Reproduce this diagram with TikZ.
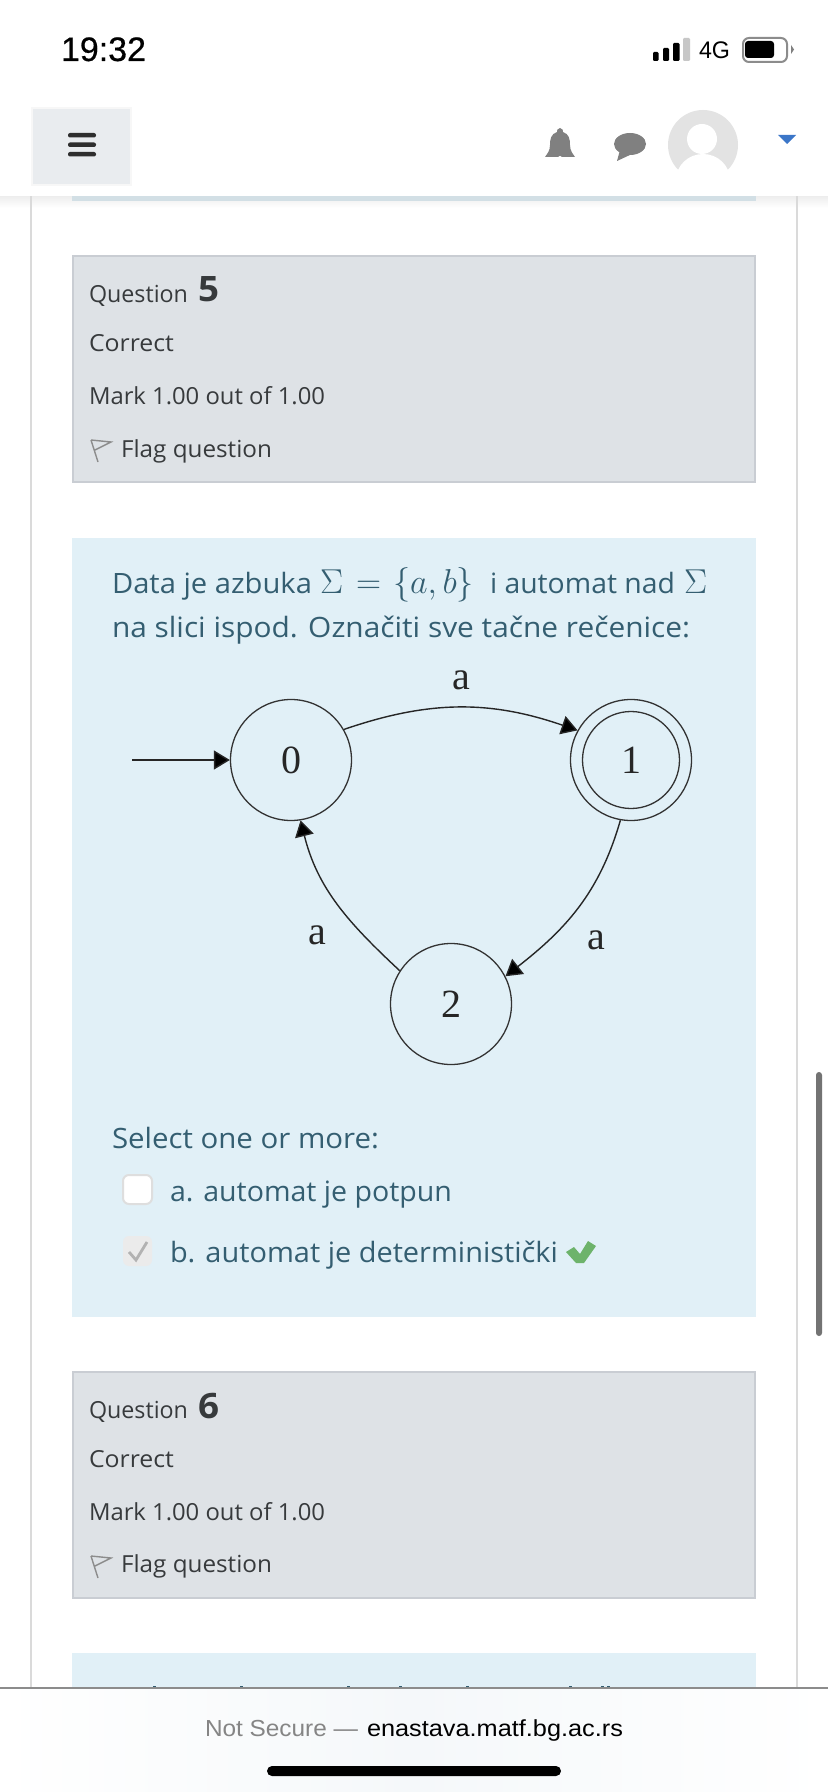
\documentclass[tikz,border=0pt]{standalone}
\usepackage{fontspec}
\usepackage{graphicx}
\usetikzlibrary{arrows.meta}
\setmainfont{Open Sans}
\newfontfamily\sysfont{Liberation Sans}
\newfontfamily\sysmed[FakeBold=0.5]{Liberation Sans}
\newfontfamily\dgfont{Liberation Serif}
\newcommand{\tw}[2]{\resizebox{\dimexpr #1pt/2\relax}{\height}{#2}}
\definecolor{qtext}{HTML}{373A3C}
\definecolor{atext}{HTML}{345E71}
\definecolor{qfill}{HTML}{DEE2E6}
\definecolor{qline}{HTML}{C9CDD3}
\definecolor{afill}{HTML}{E1F0F7}
\definecolor{frameline}{HTML}{DADADA}
\definecolor{icongray}{HTML}{808080}
\definecolor{okgreen}{HTML}{6DB36B}
\definecolor{caret}{HTML}{3B76C8}
\definecolor{menufill}{HTML}{E9ECEF}
\definecolor{barfill}{HTML}{F5F8FA}
\tikzset{
  basetext/.style={anchor=base west,inner sep=0pt,outer sep=0pt},
  qlabel/.style={basetext,text=qtext,font=\fontsize{11.75}{14}\selectfont},
  qnum/.style={basetext,text=qtext,font=\fontsize{17.5}{20}\selectfont\bfseries},
  atxt/.style={basetext,text=atext,font=\fontsize{14}{17}\selectfont},
  amath/.style={basetext,text=atext,font=\fontsize{17}{20}\selectfont},
  sys/.style={basetext,text=black,font=\sysfont\fontsize{12}{14}\selectfont},
  statenode/.style={circle,draw=black!80,line width=0.65pt,minimum size=60.5pt,inner sep=0pt,font=\dgfont\fontsize{20}{22}\selectfont,text=black!85},
  innercircle/.style={circle,draw=black!80,line width=0.65pt,minimum size=48.5pt,inner sep=0pt},
  edgelabel/.style={inner sep=0pt,font=\dgfont\fontsize{20}{22}\selectfont,text=black!85},
  edge/.style={draw=black!85,line width=0.7pt,-{Triangle[length=8pt,width=9.5pt,fill=black]}},
  qbox/.style={fill=qfill,draw=qline,line width=1pt},
  flagicon/.style={draw=gray!90,line width=0.7pt,line join=miter}
}
\begin{document}
\begin{tikzpicture}[x=0.5pt,y=-0.5pt]
\useasboundingbox (0,0) rectangle (828,1792);
\fill[white] (0,0) rectangle (828,1792);

% header shadow and strip
\shade[top color=black!7,bottom color=white] (0,196) rectangle (828,208);
\fill[frameline] (30,196) rectangle (32,1688);
\fill[frameline] (796,196) rectangle (798,1688);
\fill[fill=afill!85!gray] (72,196) rectangle (756,201);

% question 5
\draw[qbox] (73,256) rectangle (755,482);
\node[qlabel] (q5a) at (89,303) {\tw{99}{Question}};
\node[qnum] (q5b) at (198,302) {\tw{21}{5}};
\node[qlabel] (q5c) at (89,352) {\tw{85}{Correct}};
\node[qlabel] (q5d) at (89,404) {\tw{236}{Mark 1.00 out of 1.00}};
\node[qlabel] (q5e) at (121,457) {\tw{151}{Flag question}};
\draw[flagicon] (91,440) -- (98,462) (91,440) -- (111,442) -- (95,450);

% answer block
\fill[afill] (72,538) rectangle (756,1317);
\node[atxt] (t1) at (112,593) {\tw{200}{Data je azbuka}};
\node[amath] (t2a) at (320,593) {$\Sigma$};
\node[amath] (t2b) at (356,593) {\tw{25}{$=$}};
\node[amath] (t2c) at (393,593) {\tw{81}{$\{a,b\}$}};
\node[atxt] (t3) at (490,593) {\tw{185}{i automat nad}};
\node[amath] (t4) at (684,593) {$\Sigma$};
\node[atxt] (t5) at (112,637) {\tw{578}{na slici ispod. Označiti sve tačne rečenice:}};

% automaton
\coordinate (start) at (132,760);
\node[statenode] (n0) at (291,760) {0};
\node[statenode] (n1) at (631,760) {1};
\node[innercircle] (n1i) at (631,760) {};
\node[statenode] (n2) at (451,1004) {2};
\draw[edge] (start) -- (n0.west);
\draw[edge] (n0.30) to[out=19,in=161] (n1.151);
\draw[edge] (n1.260) to[out=254,in=38] (n2.27);
\draw[edge] (n2.147) to[out=137,in=284] (n0.279);
\node[edgelabel] (l1) at (461,680) {a};
\node[edgelabel] (l2) at (596,940) {a};
\node[edgelabel] (l3) at (317,935) {a};

% answers
\node[atxt] (s1) at (112,1148) {\tw{267}{Select one or more:}};
\draw[fill=white,draw=black!13,line width=1pt,rounded corners=3pt] (123,1175) rectangle (152,1204);
\node[atxt] (s2) at (170,1201) {\tw{282}{a. automat je potpun}};
\fill[black!8,rounded corners=3pt] (123,1236) rectangle (152,1266);
\draw[black!30,line width=1.4pt] (129,1252) -- (136,1260) -- (147,1242);
\node[atxt] (s3) at (170,1262) {\tw{388}{b. automat je deterministički}};
\fill[okgreen] (566,1252) -- (576,1263) -- (584,1263) -- (596,1246) -- (588,1241) -- (580,1254) -- (574,1247) -- cycle;

% question 6
\draw[qbox] (73,1372) rectangle (755,1598);
\node[qlabel] (q6a) at (89,1418) {\tw{99}{Question}};
\node[qnum] (q6b) at (198,1418) {\tw{21}{6}};
\node[qlabel] (q6c) at (89,1467) {\tw{85}{Correct}};
\node[qlabel] (q6d) at (89,1520) {\tw{236}{Mark 1.00 out of 1.00}};
\node[qlabel] (q6e) at (121,1572) {\tw{151}{Flag question}};
\draw[flagicon] (91,1556) -- (98,1578) (91,1556) -- (111,1558) -- (95,1566);

% next block
\fill[afill] (72,1653) rectangle (756,1688);
\foreach \xx in {153,240,347,399,466,569,601,607}
  \fill[atext] (\xx,1686) rectangle ++(2.5,2);

% scrollbar
\fill[black!55,rounded corners=1.5pt] (816,1072) rectangle (822,1336);

% header
\fill[white] (0,0) rectangle (828,196);
\node[sys,font=\sysmed\fontsize{17}{20}\selectfont] (time) at (61,61) {\tw{85}{19:32}};
\fill[black,rounded corners=0.6pt] (653,52) rectangle (658.5,61);
\fill[black,rounded corners=0.6pt] (663,48) rectangle (669,61);
\fill[black,rounded corners=0.6pt] (673,43) rectangle (679.5,61);
\fill[black!22,rounded corners=0.6pt] (683,38) rectangle (690,61);
\node[sys] (net) at (699,59) {\tw{31}{4G}};
\draw[black!45,line width=1pt,rounded corners=3pt] (743,38) rectangle (787,62);
\fill[black,rounded corners=1.5pt] (745,41) rectangle (774,58);
\fill[black!50] (791,45) -- (794,49.5) -- (791,54) -- cycle;
\draw[fill=menufill,draw=black!3,line width=1pt] (32,108) rectangle (131,185);
\foreach \yy in {133,142.5,152}
  \fill[black!82,rounded corners=1pt] (68,\yy) rectangle (96,\yy+4.5);
% bell
\fill[icongray] (560,128) .. controls (563,128) and (563,131) .. (563,132)
  .. controls (569,134) and (570,139) .. (570,145) .. controls (570,151) and (573,154) .. (575,157)
  -- (545,157) .. controls (547,154) and (550,151) .. (550,145) .. controls (550,139) and (551,134) .. (557,132)
  .. controls (557,131) and (557,128) .. (560,128) -- cycle;
\fill[icongray] (556,157) arc[start angle=180,end angle=360,radius=4] -- cycle;
\fill[white] (558,158) arc[start angle=180,end angle=360,radius=2] -- cycle;
% bubble
\fill[icongray] (630,144) ellipse[x radius=16,y radius=11];
\fill[icongray] (620,150) -- (617,161) -- (632,154) -- cycle;
% avatar
\begin{scope}
\clip (660,105) rectangle (745,175);
\fill[black!11] (703,145) circle[radius=35];
\fill[white] (702,139) circle[radius=15];
\fill[white] (703,180) ellipse[x radius=27,y radius=26];
\end{scope}
\fill[caret] (778,135) -- (796,135) -- (787,144) -- cycle;

% bottom bar
\shade[left color=white,right color=white,middle color=barfill] (0,1688) rectangle (828,1792);
\draw[black!45,line width=0.6pt] (0,1688) -- (828,1688);
\node[sys,text=black!48,font=\sysfont\fontsize{11.6}{14}\selectfont] (ns) at (205,1736) {\tw{153}{Not Secure —}};
\node[sys,font=\sysfont\fontsize{11.6}{14}\selectfont] (url) at (367,1736) {\tw{256}{enastava.matf.bg.ac.rs}};
\fill[black,rounded corners=2.5pt] (267,1766) rectangle (561,1776);
\end{tikzpicture}
\end{document}
